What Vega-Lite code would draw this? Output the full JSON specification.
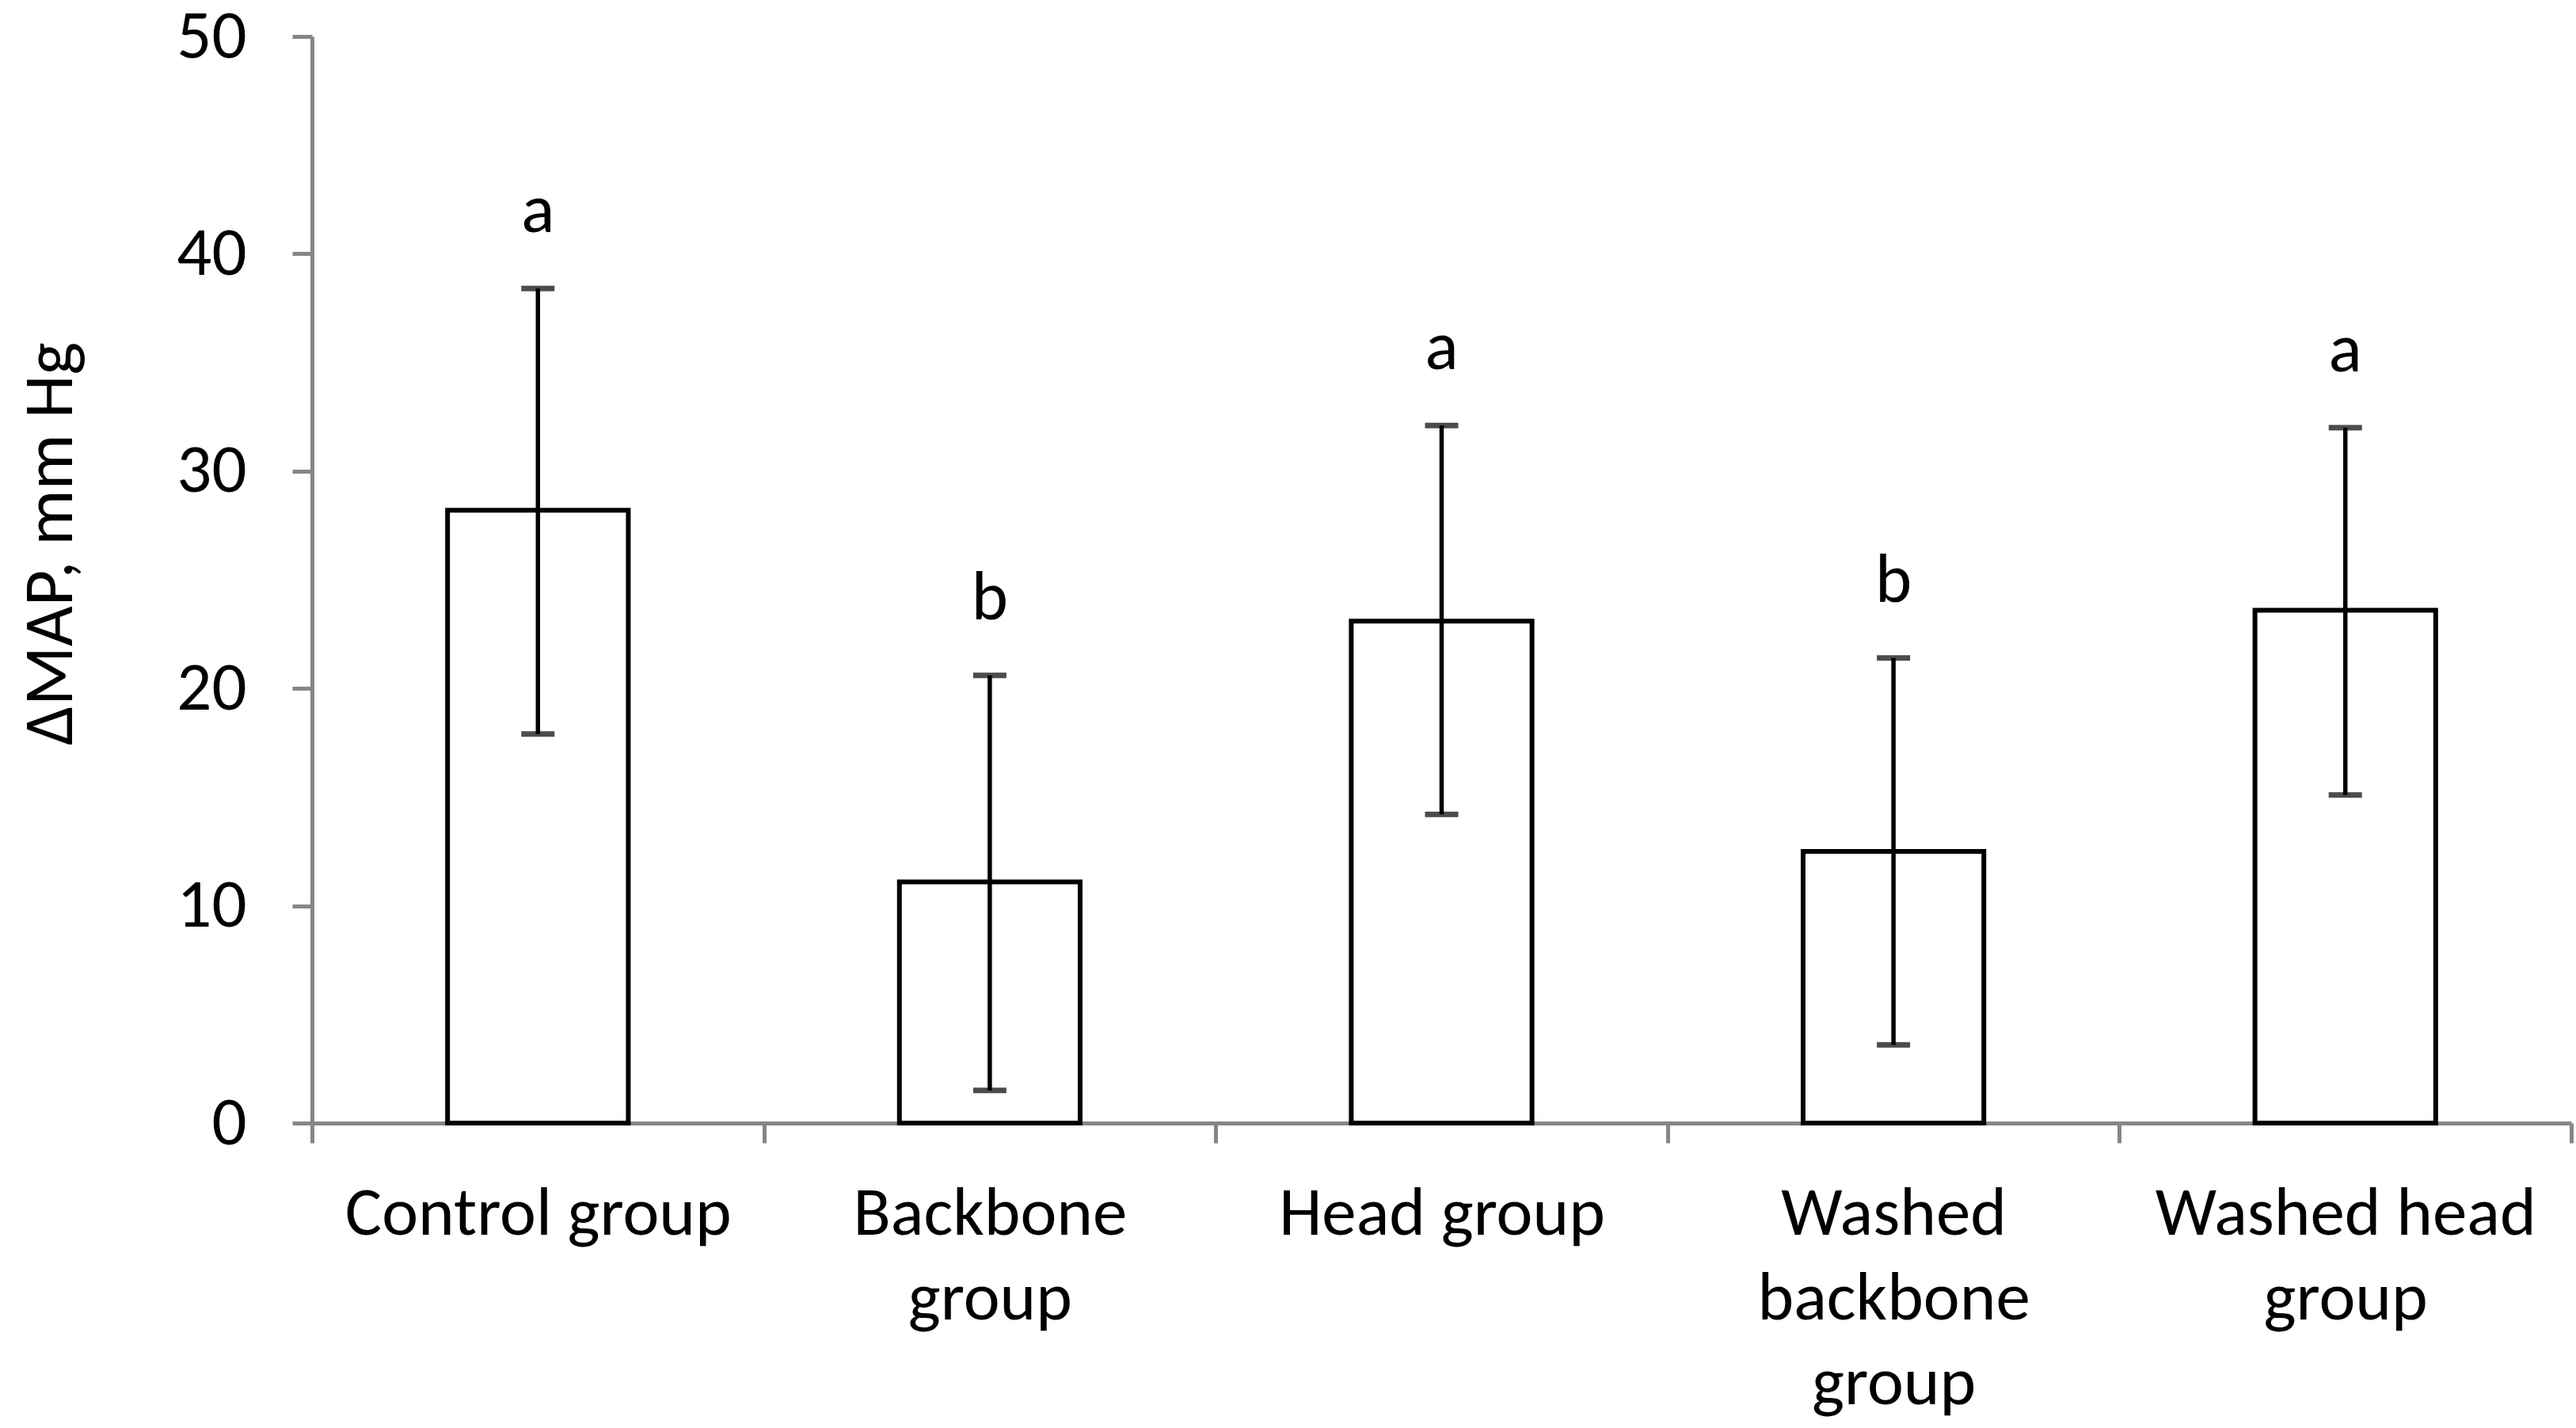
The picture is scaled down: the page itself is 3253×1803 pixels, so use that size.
{
  "$schema": "https://vega.github.io/schema/vega-lite/v6.json",
  "autosize": {"type": "none"},
  "width": 2853,
  "height": 1372,
  "padding": {"left": 394, "top": 46, "right": 6, "bottom": 385},
  "background": "white",
  "config": {
    "view": {"stroke": null},
    "font": "Calibri, Carlito, Lato, sans-serif",
    "axis": {
      "labelFont": "Calibri, Carlito, Lato, sans-serif",
      "titleFont": "Calibri, Carlito, Lato, sans-serif",
      "labelFontSize": 87,
      "titleFontSize": 88,
      "titleFontWeight": "normal",
      "labelColor": "black",
      "titleColor": "black",
      "domainColor": "#868686",
      "tickColor": "#868686",
      "domainWidth": 5,
      "tickWidth": 5,
      "tickSize": 25,
      "grid": false,
      "zindex": 1
    }
  },
  "data": {
    "values": [
      {"group": "Control group", "mean": 28.2, "lower": 17.9, "upper": 38.4, "letter": "a"},
      {"group": "Backbone group", "mean": 11.1, "lower": 1.5, "upper": 20.6, "letter": "b"},
      {"group": "Head group", "mean": 23.1, "lower": 14.2, "upper": 32.1, "letter": "a"},
      {"group": "Washed backbone group", "mean": 12.5, "lower": 3.6, "upper": 21.4, "letter": "b"},
      {"group": "Washed head group", "mean": 23.6, "lower": 15.1, "upper": 32.0, "letter": "a"}
    ]
  },
  "encoding": {
    "x": {
      "field": "group",
      "type": "nominal",
      "sort": null,
      "scale": {"paddingInner": 0, "paddingOuter": 0},
      "axis": {
        "title": null,
        "labelAngle": 0,
        "tickBand": "extent",
        "labelPadding": 46,
        "labelLineHeight": 107,
        "labelLimit": 0,
        "labelBaseline": "top",
        "labelExpr": "datum.label == 'Backbone group' ? ['Backbone','group'] : datum.label == 'Washed backbone group' ? ['Washed','backbone','group'] : datum.label == 'Washed head group' ? ['Washed head','group'] : datum.label"
      }
    }
  },
  "layer": [
    {
      "mark": {"type": "bar", "fill": "white", "stroke": "black", "strokeWidth": 6, "width": {"band": 0.4}},
      "encoding": {
        "y": {
          "field": "mean",
          "type": "quantitative",
          "scale": {"domain": [0, 50], "nice": false},
          "axis": {
            "title": "ΔMAP, mm Hg",
            "values": [0, 10, 20, 30, 40, 50],
            "labelPadding": 58,
            "titleX": -330,
            "titleY": 640,
            "titleBaseline": "middle",
            "titleAngle": -90
          }
        }
      }
    },
    {
      "mark": {"type": "rule", "color": "black", "strokeWidth": 5.5},
      "encoding": {
        "y": {"field": "lower", "type": "quantitative"},
        "y2": {"field": "upper"}
      }
    },
    {
      "mark": {"type": "tick", "color": "black", "thickness": 7, "size": 42, "orient": "horizontal"},
      "encoding": {"y": {"field": "upper", "type": "quantitative"}}
    },
    {
      "mark": {"type": "tick", "color": "black", "thickness": 7, "size": 42, "orient": "horizontal"},
      "encoding": {"y": {"field": "lower", "type": "quantitative"}}
    },
    {
      "mark": {"type": "text", "fontSize": 88, "baseline": "alphabetic", "align": "center", "dy": -71, "color": "black"},
      "encoding": {
        "y": {"field": "upper", "type": "quantitative"},
        "text": {"field": "letter"}
      }
    }
  ]
}
